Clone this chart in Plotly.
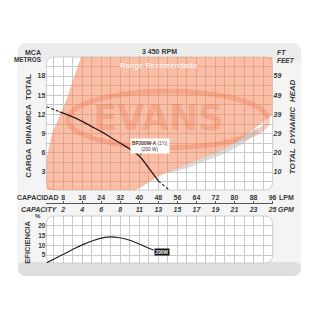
import plotly.graph_objects as go

W = H = 320

# ---------------- data ----------------
lpm_ticks = [8, 16, 24, 32, 40, 48, 56, 64, 72, 80, 88, 96]
gpm_labels = ['2', '4', '6', '8', '11', '13', '15', '17', '19', '21', '23', '25']
head_m_ticks = [3, 6, 9, 12, 15, 18]
head_ft_labels = ['10', '20', '29', '39', '49', '59']
eff_ticks = [5, 10, 15, 20]

head_lpm = [6.5, 8, 12, 16, 20, 24, 28, 32, 36, 40, 44, 48]
head_m = [12.4, 12.2, 11.6, 10.9, 10.1, 9.3, 8.4, 7.5, 6.6, 5.5, 3.6, 1.6]
head_low_lpm = [1.0, 6.5]
head_low_m = [13.2, 12.4]
head_high_lpm = [48, 52.5]
head_high_m = [1.6, 0.2]

eff_lpm = [1, 5, 9, 13, 17, 21, 25, 28, 31, 35, 39, 43, 46]
eff_pct = [1.0, 3.5, 5.9, 8.4, 10.7, 12.6, 13.9, 14.3, 14.0, 12.9, 11.2, 9.0, 7.6]

# recommended range polygon (LPM, m)
range_lpm = [15.9, 9.3, 3.4, 0.9, 0.9, 37.5, 41.6, 47.8, 56.1, 64.4, 72.7, 81.0, 88.0, 96.0, 96.0]
range_m = [21.5, 14.2, 9.1, 5.0, 0.0, 0.0, 0.8, 2.3, 3.6, 4.8, 6.1, 7.7, 9.6, 11.9, 21.5]
# gray shadow band under the range
shadow_lpm = [52, 60, 68, 76, 84, 90, 90, 84, 76, 68, 60, 52]
shadow_m = [3.0, 4.2, 5.4, 6.8, 8.6, 10.0, 9.2, 7.5, 5.9, 4.7, 3.6, 2.8]

curve_name = '<b>BP200W-A</b> (1½)<br>(200 W)'
eff_name = '200W'

FONT = 'Liberation Sans, Arial, sans-serif'
TXT = '#3a3a3a'
GRID = '#c9c9c9'


def P(px, py):
    return px / W, 1 - py / H


def rrect(x0, y0, x1, y1, r):
    # rounded rect path in paper coords from pixel box
    def p(x, y):
        a, b = P(x, y)
        return f'{a:.5f},{b:.5f}'
    return (f'M{p(x0 + r, y0)} L{p(x1 - r, y0)} Q{p(x1, y0)} {p(x1, y0 + r)} '
            f'L{p(x1, y1 - r)} Q{p(x1, y1)} {p(x1 - r, y1)} L{p(x0 + r, y1)} '
            f'Q{p(x0, y1)} {p(x0, y1 - r)} L{p(x0, y0 + r)} Q{p(x0, y0)} {p(x0 + r, y0)} Z')


PL, PR = 47, 276
TOP_T, TOP_B = 57, 190
BOT_T, BOT_B = 216, 263

fig = go.Figure()

fig.add_trace(go.Scatter(x=shadow_lpm, y=shadow_m, fill='toself', mode='lines',
                         line=dict(width=0), fillcolor='rgba(185,185,185,0.5)',
                         hoverinfo='skip', showlegend=False))
fig.add_trace(go.Scatter(x=range_lpm, y=range_m, fill='toself', mode='lines',
                         line=dict(width=0), fillcolor='rgba(245,128,85,0.52)',
                         hoverinfo='skip', showlegend=False))
fig.add_trace(go.Scatter(x=[48], y=[10.9], mode='text', text=['<b>EVANS</b>'],
                         textfont=dict(size=35, color='rgba(232,105,65,0.25)', family='DejaVu Sans'),
                         hoverinfo='skip', showlegend=False))
fig.add_trace(go.Scatter(x=head_low_lpm, y=head_low_m, mode='lines',
                         line=dict(color='#2b1a18', width=1.1, dash='3px,2px'),
                         hoverinfo='skip', showlegend=False))
fig.add_trace(go.Scatter(x=head_high_lpm, y=head_high_m, mode='lines',
                         line=dict(color='#2b1a18', width=1.1, dash='3px,2px'),
                         hoverinfo='skip', showlegend=False))
fig.add_trace(go.Scatter(x=head_lpm, y=head_m, mode='lines',
                         line=dict(color='#2b1a18', width=1.3, shape='spline'),
                         hoverinfo='skip', showlegend=False))
fig.add_trace(go.Scatter(x=eff_lpm, y=eff_pct, mode='lines', xaxis='x3', yaxis='y3',
                         line=dict(color='#222222', width=1.1, shape='spline'),
                         hoverinfo='skip', showlegend=False))
# dummy for right axis
fig.add_trace(go.Scatter(x=[None], y=[None], yaxis='y2', showlegend=False, hoverinfo='skip'))

dom_x = [PL / W, PR / W]
xr = [8 - (64 - PL) / ((PR - 64) / 88), 96]
yr_top = [3 - (TOP_B - 172) / 6.4, 18 + (76 - TOP_T) / 6.4]
yr_bot = [5 - (BOT_B - 255) / 1.953, 20 + (225.7 - BOT_T) / 1.953]

tickfont = dict(family=FONT, size=7, color=TXT, weight='bold')
itfont = dict(family=FONT, size=7, color=TXT, weight='bold', style='italic')

fig.update_layout(
    width=W, height=H, margin=dict(l=0, r=0, t=0, b=0),
    paper_bgcolor='white', plot_bgcolor='rgba(0,0,0,0)',
    font=dict(family=FONT, color=TXT),
    xaxis=dict(domain=dom_x, range=xr, anchor='free', position=1 - 203 / H, side='top',
               tickvals=lpm_ticks, ticktext=[str(v) for v in lpm_ticks], tickfont=tickfont,
               ticks='outside', ticklen=2, tickcolor='#555', showline=True, linecolor='#555',
               linewidth=1, showgrid=True, gridcolor=GRID, gridwidth=0.7, zeroline=False,
               ticklabelstandoff=-2,
               minor=dict(dtick=4, tick0=0, showgrid=True, gridcolor=GRID, gridwidth=0.7)),
    yaxis=dict(domain=[1 - TOP_B / H, 1 - TOP_T / H], range=yr_top, tickvals=head_m_ticks,
               tickfont=tickfont, showgrid=True, gridcolor=GRID, gridwidth=0.7, zeroline=False,
               ticks='', minor=dict(dtick=1.5, tick0=0, showgrid=True, gridcolor=GRID, gridwidth=0.7)),
    yaxis2=dict(overlaying='y', side='right', range=yr_top, tickvals=head_m_ticks,
                ticktext=head_ft_labels, tickfont=itfont, showgrid=False, zeroline=False, ticks=''),
    xaxis3=dict(domain=dom_x, range=xr, anchor='y3', side='top', tickvals=lpm_ticks,
                ticktext=gpm_labels, tickfont=itfont, ticks='', showgrid=True, gridcolor=GRID,
                gridwidth=0.7, zeroline=False, ticklabelstandoff=2,
                minor=dict(dtick=4, tick0=0, showgrid=True, gridcolor=GRID, gridwidth=0.7)),
    yaxis3=dict(domain=[1 - BOT_B / H, 1 - BOT_T / H], range=yr_bot, anchor='x3',
                tickvals=eff_ticks, tickfont=dict(family=FONT, size=6.5, color=TXT, weight='bold'),
                showgrid=True, gridcolor=GRID, gridwidth=0.7, zeroline=False, ticks=''),
)

shapes = [
    dict(type='path', path=rrect(18, 43, 305, 276, 9), xref='paper', yref='paper',
         fillcolor='#ececec', line=dict(width=0), layer='below'),
    dict(type='path', path=rrect(18, 262, 305, 276, 9), xref='paper', yref='paper',
         fillcolor='#dedede', line=dict(width=0), layer='below'),
    dict(type='path', path=rrect(18, 62, 305, 262, 0), xref='paper', yref='paper',
         fillcolor='#f4f4f4', line=dict(width=0), layer='below'),
    dict(type='path', path=rrect(PL, TOP_T, PR, TOP_B, 8), xref='paper', yref='paper',
         fillcolor='white', line=dict(color='#c4c4c4', width=0.8), layer='below'),
    dict(type='path', path=rrect(PL, BOT_T, PR, BOT_B, 8), xref='paper', yref='paper',
         fillcolor='white', line=dict(color='#c4c4c4', width=0.8), layer='below'),
    dict(type='circle', xref='x', yref='y', x0=10, x1=94, y0=6.8, y1=15.6,
         line=dict(color='rgba(232,100,60,0.32)', width=5), layer='between'),
]
fig.update_layout(shapes=shapes)


def ann(px, py, text, size=7, xanchor='center', angle=0, italic=False, color=TXT):
    x, y = P(px, py)
    f = dict(family=FONT, size=size, color=color, weight='bold')
    if italic:
        f['style'] = 'italic'
    return dict(x=x, y=y, xref='paper', yref='paper', text=text, showarrow=False,
                xanchor=xanchor, yanchor='middle', textangle=angle, font=f)


anns = [
    ann(162, 51, '3 450 RPM', 7),
    ann(44, 52.5, 'MCA', 7, 'right'),
    ann(44, 59.5, 'METROS', 6.3, 'right'),
    ann(278, 52.5, 'FT', 7, 'left', italic=True),
    ann(278, 60, 'FEET', 6.5, 'left', italic=True),
    ann(28, 126, 'CARGA  DINAMICA  TOTAL', 8, angle=-90),
    ann(296, 127, 'TOTAL  DYNAMIC  HEAD', 8, angle=-90, italic=True),
    ann(61, 197, 'CAPACIDAD', 7, 'right'),
    ann(290, 197, 'LPM', 7),
    ann(61, 209, 'CAPACITY', 7, 'right', italic=True),
    ann(290, 209, 'GPM', 7, italic=True),
    ann(27, 242, 'EFICIENCIA', 7.5, angle=-90),
    ann(38, 215.5, '%', 6),
    ann(161, 65, 'Rango Recomendado', 7.5, color='rgba(255,255,255,0.85)'),
    dict(x=head_lpm[9], y=head_m[9], xref='x', yref='y', text=curve_name, showarrow=True,
         ax=11, ay=-10, arrowhead=0, arrowwidth=0.7, arrowcolor='#333', bgcolor='white',
         borderpad=1, font=dict(family=FONT, size=4.8, color='#5a2a22')),
    dict(x=eff_lpm[-1], y=eff_pct[-1], xref='x3', yref='y3', text='<b>' + eff_name + '</b>',
         showarrow=False, xanchor='left', yanchor='middle', yshift=-2, bgcolor='#111',
         borderpad=0.5, font=dict(family=FONT, size=4.8, color='white')),
]
fig.update_layout(annotations=anns)

fig.write_html('out.html')
